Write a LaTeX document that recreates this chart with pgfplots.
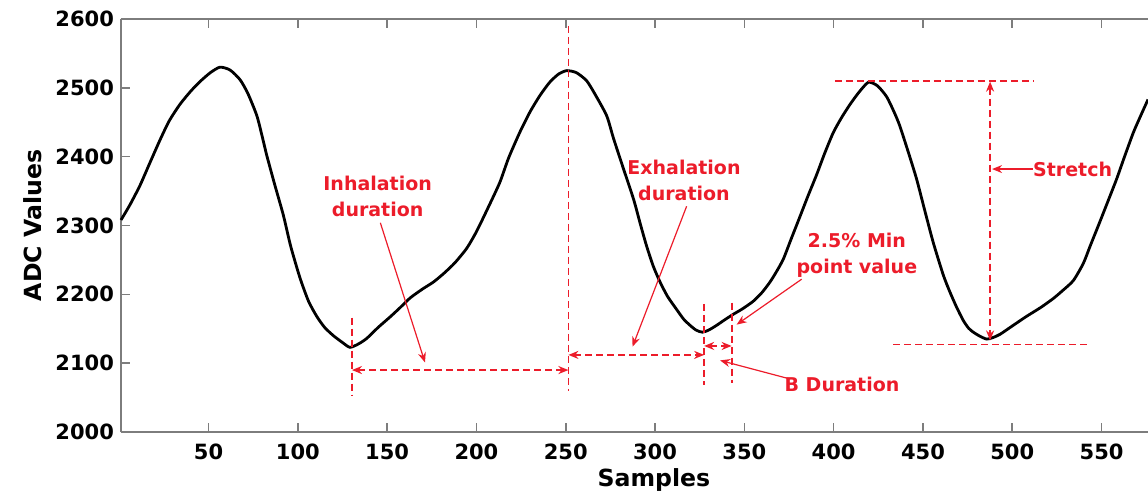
\documentclass[border=0pt]{standalone}
\usepackage{pgfplots}
\pgfplotsset{compat=1.18}
\usepackage{pgfplotstable}
\usepackage{fontspec}
\setmainfont{DejaVu Sans}
\usetikzlibrary{arrows.meta}

\definecolor{annred}{RGB}{236,28,42}
\definecolor{axgray}{RGB}{125,125,125}

% breathing signal, samples vs ADC value
\pgfplotstableread{
x y
1 2308
6 2330
11.6 2358
17 2390
22.8 2424
28 2452
34 2476
40 2495
45.2 2509
51 2522
56.4 2530
62 2526
67.6 2512
72 2492
77 2460
80 2430
82.6 2402
87 2360
91.9 2315
96 2270
101.2 2224
106 2190
110.6 2168
115 2152
119.9 2140
125 2130
129.2 2123
134 2128
138.6 2136
145 2152
151.6 2167
157 2180
163 2195
170 2208
176 2218
182 2231
188 2246
194.6 2267
200 2291
206 2323
213 2362
218 2398
224.4 2436
230 2465
235.6 2489
241 2508
246 2520
250.6 2525
256 2522
261.8 2510
267 2488
273 2459
276.7 2427
282 2385
288 2338
292 2300
295.3 2270
299 2241
302.8 2218
307 2197
312.1 2178
316 2164
319.6 2155
323 2148
326.5 2145
330 2148
334.5 2155
339 2163
343.8 2171
349 2179
355 2190
360 2203
364.4 2218
368 2233
371.8 2251
376 2279
381 2312
385.5 2342
390.5 2374
395 2405
399.8 2435
404.5 2457
409.2 2476
414 2493
419.4 2508
424.5 2503
429.7 2487
434 2464
437 2445
442 2405
446.5 2367
451 2322
455.8 2275
461.4 2228
465 2204
468.9 2181
472.6 2162
475.5 2151
478.2 2145
482 2139
485.7 2135
489 2137
493.2 2142
500 2154
508 2168
516 2181
523 2194
528 2205
534.2 2220
539.8 2245
543.6 2270
549 2305
554 2338
558.5 2368
563 2401
567.8 2435
572 2460
576 2483
}\signal

\begin{document}
\begin{tikzpicture}[
    guide/.style={annred, line width=0.9pt, dash pattern=on 3.5pt off 2pt},
    tip/.style={-{Stealth[length=5pt,width=4pt]}},
    both/.style={{Stealth[length=5pt,width=4pt]}-{Stealth[length=5pt,width=4pt]}},
    lbl/.style={annred, font=\fontsize{9.5}{13}\selectfont\bfseries, align=center}
]
\begin{axis}[
    scale only axis,
    width=513.5pt, height=206.5pt,
    xmin=1, xmax=576, ymin=2000, ymax=2600,
    axis x line*=box, axis y line*=left,
    axis line style={axgray, line width=0.8pt},
    xtick={50,100,...,550},
    ytick={2000,2100,...,2600},
    tick align=inside,
    major tick length=4.5pt,
    tick style={axgray, line width=0.8pt},
    /pgf/number format/assume math mode=true,
    /pgf/number format/set thousands separator={},
    tick label style={font=\fontsize{10.5}{12}\selectfont\bfseries},
    xticklabel style={yshift=-2.5pt},
    xlabel={Samples},
    ylabel={ADC Values},
    label style={font=\fontsize{11.8}{14}\selectfont\bfseries},
    xlabel style={at={(axis description cs:0.519,-0.131)}, anchor=base},
    ylabel style={at={(axis description cs:-0.0857,0.5)}, anchor=center},
    clip=false
]
\addplot[black, line width=1.4pt, smooth, tension=0.4] table[x=x,y=y] {\signal};

% inhalation
\draw[guide] (axis cs:130.3,2166) -- (axis cs:130.3,2052);
\draw[guide, both] (axis cs:130.3,2090) -- (axis cs:251.5,2090);
\draw[guide] (axis cs:251.5,2590) -- (axis cs:251.5,2059);
\node[lbl] at (axis cs:144.7,2342) {Inhalation\\duration};
\draw[annred, line width=0.6pt, tip] (axis cs:146.2,2304) -- (axis cs:171.2,2101);

% exhalation
\draw[guide, both] (axis cs:251.5,2112) -- (axis cs:327.5,2112);
\node[lbl] at (axis cs:316.2,2366) {Exhalation\\duration};
\draw[annred, line width=0.6pt, tip] (axis cs:317.7,2328) -- (axis cs:287.4,2124);

% B duration
\draw[guide] (axis cs:327.5,2186) -- (axis cs:327.5,2069);
\draw[guide] (axis cs:342.9,2188) -- (axis cs:342.9,2071);
\draw[guide, both] (axis cs:327.5,2125) -- (axis cs:342.9,2125);
\node[lbl] at (axis cs:404.7,2069) {B Duration};
\draw[annred, line width=0.6pt, tip] (axis cs:375.6,2077) -- (axis cs:336.4,2104);

% 2.5% min point
\node[lbl] at (axis cs:413,2257) {2.5\% Min\\point value};
\draw[annred, line width=0.6pt, tip] (axis cs:382.1,2222) -- (axis cs:345.7,2156);

% stretch
\draw[guide] (axis cs:400.7,2510) -- (axis cs:511.6,2510);
\draw[guide] (axis cs:433.3,2127) -- (axis cs:543.6,2127);
\draw[guide, both] (axis cs:487.6,2509) -- (axis cs:487.6,2133);
\node[lbl] at (axis cs:533.8,2382) {Stretch};
\draw[annred, line width=0.6pt, tip] (axis cs:511.6,2382) -- (axis cs:488.7,2382);
\end{axis}
\pgfresetboundingbox
\path (-60.5pt,-30.5pt) rectangle (513.5pt,216pt);
\end{tikzpicture}
\end{document}
